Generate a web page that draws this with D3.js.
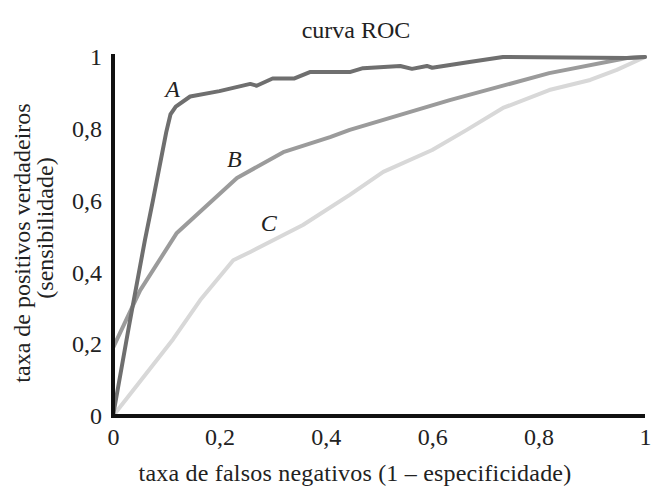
<!DOCTYPE html>
<html>
<head>
<meta charset="utf-8">
<script src="https://cdn.jsdelivr.net/npm/d3@7"></script>
<style>
body{margin:0;background:#fff;}
svg text{font-family:"Liberation Serif","Times New Roman",serif;fill:#222;}
</style>
</head>
<body>
<div id="chart"></div>
<script>
// curve A (darkest)
var curveA = [[0,0],[0.03,0.25],[0.06,0.49],[0.075,0.6],[0.1,0.79],[0.108,0.84],[0.118,0.862],
  [0.145,0.89],[0.2,0.905],[0.258,0.925],[0.27,0.92],[0.3,0.94],[0.34,0.94],[0.37,0.958],
  [0.445,0.958],[0.47,0.969],[0.54,0.975],[0.562,0.967],[0.59,0.975],[0.6,0.97],[0.67,0.986],
  [0.733,1.0],[0.966,0.997],[1,1]];
var curveB = [[0,0],[0,0.19],[0.051,0.35],[0.12,0.51],[0.233,0.663],[0.32,0.735],[0.408,0.777],
  [0.445,0.797],[0.633,0.88],[0.82,0.955],[0.966,0.997],[1,1]];
var curveC = [[0,0],[0.113,0.214],[0.164,0.323],[0.226,0.434],[0.258,0.457],[0.357,0.532],
  [0.445,0.616],[0.508,0.68],[0.6,0.741],[0.665,0.797],[0.733,0.858],[0.82,0.908],[0.897,0.936],
  [0.947,0.964],[1,1]];
var curveNames = ["A","B","C"];
var curveColors = ["#6f6f6f","#9b9b9b","#d8d8d8"];
// label positions (data units)
var labelPos = [[0.112,0.91],[0.228,0.716],[0.293,0.537]];
var ticks = [0,0.2,0.4,0.6,0.8,1];

var width=661, height=488;
var fontFam = '"Liberation Serif","Times New Roman",serif';
var svg = d3.select('#chart').append('svg')
  .attr('width',width).attr('height',height);

var x = d3.scaleLinear().domain([0,1]).range([113,645]);
var y = d3.scaleLinear().domain([0,1]).range([416,57]);

function fmt(d){ return String(d).replace('.',','); }

var line = d3.line()
  .x(function(d){return x(d[0]);})
  .y(function(d){return y(d[1]);});

var curves=[curveA,curveB,curveC];
// lightest first so darker ones sit on top
[2,1,0].forEach(function(i){
  svg.append('path')
    .datum(curves[i])
    .attr('d',line)
    .attr('fill','none')
    .attr('stroke',curveColors[i])
    .attr('stroke-width',4)
    .attr('stroke-linejoin','round')
    .attr('stroke-linecap','round');
});

// axes
var xAxis = svg.append('g')
  .attr('transform','translate(0,'+y(0)+')')
  .call(d3.axisBottom(x).tickValues(ticks).tickSize(0).tickPadding(12).tickFormat(fmt));
var yAxis = svg.append('g')
  .attr('transform','translate('+x(0)+',0)')
  .call(d3.axisLeft(y).tickValues(ticks).tickSize(0).tickPadding(11).tickFormat(fmt));

[xAxis,yAxis].forEach(function(g){
  g.attr('font-family',fontFam).attr('font-size',24);
  g.select('.domain').attr('stroke','#111').attr('stroke-width',4);
  g.selectAll('text').attr('fill','#222');
});
// axis lines stick out a little past the ends
yAxis.select('.domain').attr('d','M0,'+(y(1)-3)+'V'+(y(0)+2));
xAxis.select('.domain').attr('d','M'+(x(0)-2)+',0H'+x(1));

// curve letters
svg.selectAll('.lbl')
  .data(curveNames)
  .enter()
  .append('text')
  .attr('class','lbl')
  .attr('x',function(d,i){return x(labelPos[i][0]);})
  .attr('y',function(d,i){return y(labelPos[i][1]);})
  .attr('text-anchor','middle')
  .attr('dominant-baseline','central')
  .style('font-style','italic')
  .style('font-size','24px')
  .text(function(d){return d;});

svg.append('text')
  .attr('x',356).attr('y',38)
  .attr('text-anchor','middle')
  .style('font-size','24px')
  .text('curva ROC');

svg.append('text')
  .attr('x',355).attr('y',481)
  .attr('text-anchor','middle')
  .style('font-size','24px')
  .style('letter-spacing','0.2px')
  .text('taxa de falsos negativos (1 – especificidade)');

svg.append('text')
  .attr('transform','translate(30,243) rotate(-90)')
  .attr('text-anchor','middle')
  .style('font-size','24px')
  .text('taxa de positivos verdadeiros');
svg.append('text')
  .attr('transform','translate(53,228) rotate(-90)')
  .attr('text-anchor','middle')
  .style('font-size','24px')
  .text('(sensibilidade)');
</script>
</body>
</html>
